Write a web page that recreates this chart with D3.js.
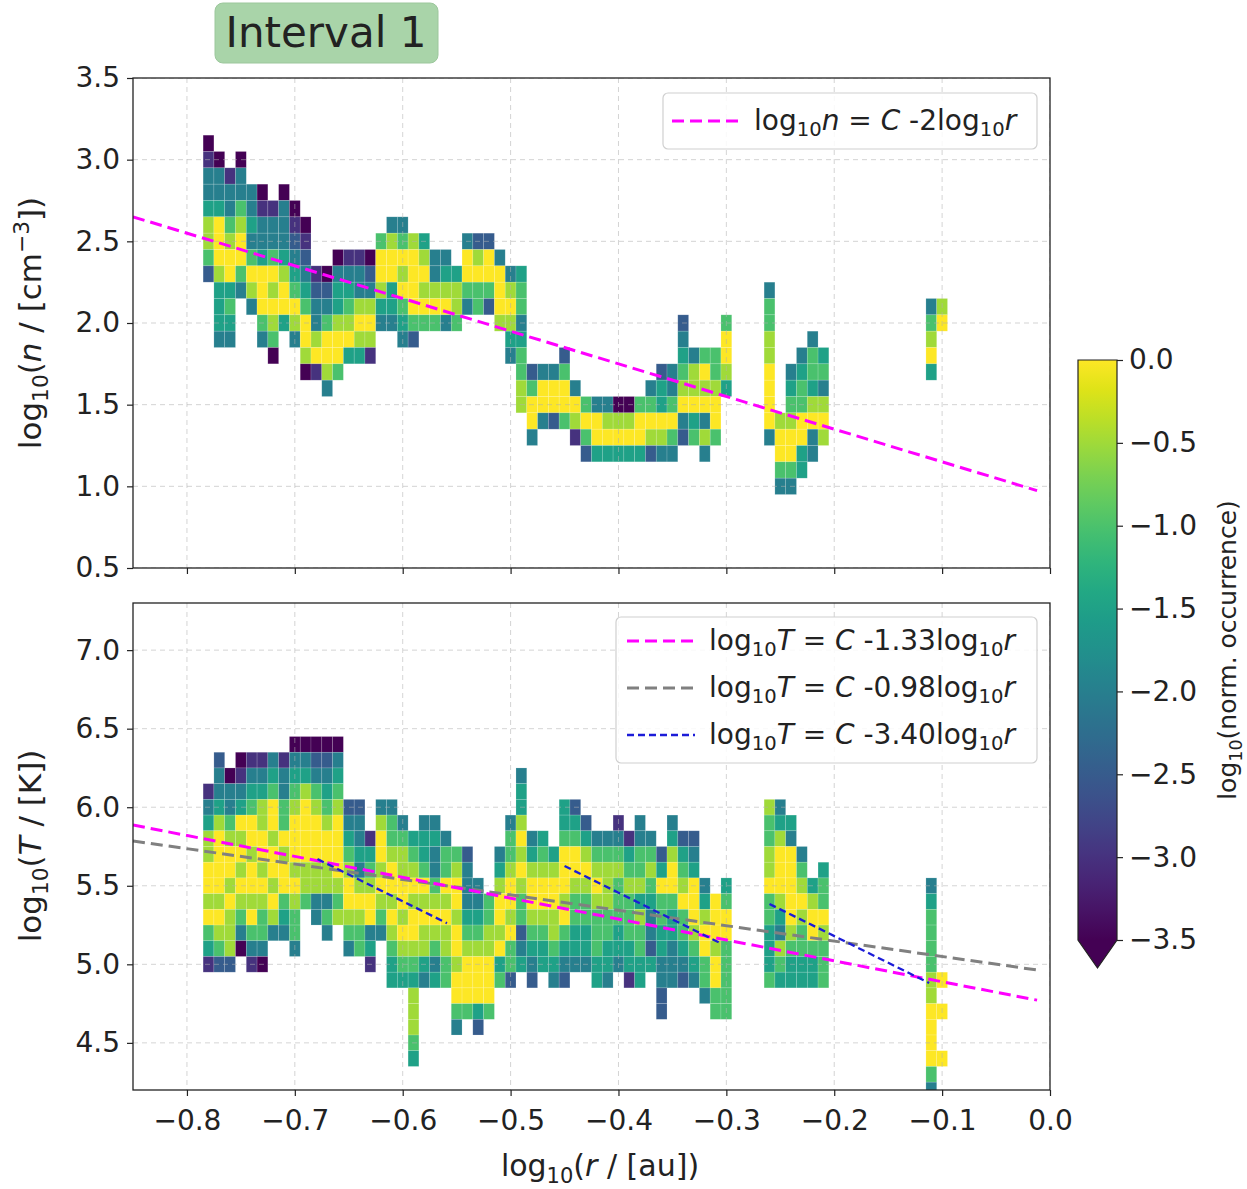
<!DOCTYPE html>
<html>
<head>
<meta charset="utf-8">
<script src="https://cdn.jsdelivr.net/npm/d3@7"></script>
<style>
body { margin: 0; background: #fff; }
text { font-family: "DejaVu Sans", sans-serif; fill: #222; }
</style>
</head>
<body>
<svg id="chart" width="1247" height="1189"></svg>
<script>
// 2D histograms: one entry per r-bin (width 0.01), top bin centre, then one digit per
// 0.1-wide bin going down. digit d -> log10(norm. occurrence) = -0.5*d, "." = empty
var densCols = [-0.78,-0.77,-0.76,-0.75,-0.74,-0.73,-0.72,-0.71,-0.70,-0.69,-0.68,-0.67,-0.66,-0.65,-0.64,-0.63,
  -0.62,-0.61,-0.60,-0.59,-0.58,-0.57,-0.56,-0.55,-0.54,-0.53,-0.52,-0.51,-0.50,-0.49,-0.48,-0.47,-0.46,-0.45,
  -0.44,-0.43,-0.42,-0.41,-0.40,-0.39,-0.38,-0.37,-0.36,-0.35,-0.34,-0.33,-0.32,-0.31,-0.30,
  -0.26,-0.25,-0.24,-0.23,-0.22,-0.21,-0.11,-0.10];
var densTop = [3.1,3.0,2.9,3.0,2.8,2.8,2.7,2.8,2.7,2.6,2.3,2.3,2.4,2.4,2.4,2.4,
  2.5,2.6,2.6,2.5,2.5,2.4,2.4,2.3,2.5,2.5,2.5,2.4,2.3,2.3,1.7,1.7,1.7,1.8,
  1.6,1.5,1.5,1.5,1.5,1.5,1.5,1.6,1.7,1.7,2.0,1.8,1.8,1.8,2.0,
  2.2,1.4,1.7,1.8,1.9,1.8,2.1,2.1];
var densLevels = ["764431125","744300013334","64421003234","744210024","44342014","7644300024","6442010127",
  "744431003","765432014","7654320017","6544106","75420014","74331002","6432103","6441013","7541016",
  "200134","4100334","42010234","1000025","310102","44102","43104","3112","40024","51022","50025","40001",
  "410134","322432211","52004","4004","4005","52002",
  "4016","2025","4003","4103","7103","7103","2003","42015","533014","442024","54321045","411032","2010414","221002","20013",
  "4221100004","10024","43210024","43220033","42231044","324101","42103","10"];

var tempCols = [-0.78,-0.77,-0.76,-0.75,-0.74,-0.73,-0.72,-0.71,-0.70,-0.69,-0.68,-0.67,-0.66,-0.65,-0.64,-0.63,
  -0.62,-0.61,-0.60,-0.59,-0.58,-0.57,-0.56,-0.55,-0.54,-0.53,-0.52,-0.51,-0.50,-0.49,-0.48,-0.47,-0.46,-0.45,
  -0.44,-0.43,-0.42,-0.41,-0.40,-0.39,-0.38,-0.37,-0.36,-0.35,-0.34,-0.33,-0.32,-0.31,-0.30,
  -0.26,-0.25,-0.24,-0.23,-0.22,-0.21,-0.11,-0.10];
var tempTop = [6.1,6.3,6.2,6.3,6.3,6.3,6.3,6.3,6.4,6.4,6.4,6.4,6.4,6.0,6.0,5.8,
  6.0,6.0,5.9,5.8,5.9,5.9,5.8,5.7,5.7,5.5,5.4,5.7,5.9,6.2,5.8,5.8,5.7,6.0,
  6.0,5.9,5.8,5.8,5.9,5.8,5.9,5.8,5.7,5.9,5.8,5.8,5.5,5.4,5.5,
  6.0,6.0,5.9,5.7,5.5,5.6,5.5,4.9];
var tempLevels = ["643110010236","54431000010125","7442100101115","7643010101247","64320010010246",
  "64311001012247","432001001014","644220100234","74321000101224","74310000112","754210001144",
  "7543210011424","743210000121","5432100124","5443410122","632100436",
  "410010124","422100101233","42110010123","321010012311123","43320101134","43442101243","4220101122",
  "210010010024","54443210002","4432100035","22110002","431001032","42210010225","4331010122543",
  "4310012345","321001233","310011234","332000102345",
  "53200122334","5310122334","4210122233","4211122334","6421222334","6321222336","44221312233",
  "421234453","53022334455","43100233444","5321022345","5430001234","43100224","00010022","320022222",
  "122110223332","431000134123","34000001233","421012233","3100233","32201222","43222211000024","0.0..0"];

var xTicks = [-0.8,-0.7,-0.6,-0.5,-0.4,-0.3,-0.2,-0.1,0.0];
var nTicks = [0.5,1.0,1.5,2.0,2.5,3.0,3.5];
var tTicks = [4.5,5.0,5.5,6.0,6.5,7.0];
var cbTicks = [0.0,-0.5,-1.0,-1.5,-2.0,-2.5,-3.0,-3.5];

// fitted power laws: log10 y = C + slope*log10 r, drawn from r0 to r1
var nFit = [-2, 0.95, -0.85, -0.012];
var tFitSteep = [-1.33, 4.756, -0.85, -0.012];
var tFitFlat = [-0.98, 4.952, -0.85, -0.012];
// three short local fits with slope -3.40: [r0, r1, y at r0]
var bluePieces = [[-0.679,-0.559,5.67],[-0.45,-0.304,5.626],[-0.26,-0.112,5.384]];

var svg = d3.select("#chart");
svg.append("rect").attr("width",1247).attr("height",1189).attr("fill","#fff");

var x = d3.scaleLinear().domain([-0.85,0.0]).range([133,1050]);
var yN = d3.scaleLinear().domain([0.5,3.5]).range([568,78]);
var yT = d3.scaleLinear().domain([4.2,7.3]).range([1090,603]);
var color = d3.scaleSequential(d3.interpolateViridis).domain([-3.5,0]);
var fmt = function(d){ return d3.format(".1f")(d).replace("-","\u2212"); };

function toCells(cols, tops, levels){
    var out = [];
    cols.forEach(function(c,i){
        levels[i].split("").forEach(function(ch,j){
            if (ch === ".") return;
            out.push({x:c, y:+(tops[i]-0.1*j).toFixed(2), v:-0.5*(+ch)});
        });
    });
    return out;
}

// rich text with italic / subscript / superscript pieces
function rich(sel, parts, size){
    var cur = 0;
    parts.forEach(function(p){
        var target = p[1]==="sub" ? size*0.22 : (p[1]==="sup" ? -size*0.4 : 0);
        var s = sel.append("tspan").text(p[0]).attr("dy", target-cur);
        cur = target;
        if (p[1]==="i") s.style("font-style","italic");
        if (p[1]==="sub" || p[1]==="sup") s.attr("font-size", size*0.7);
    });
}

function panel(y, top, bottom, cells, ticks, clipId){
    svg.append("clipPath").attr("id",clipId).append("rect")
        .attr("x",133).attr("y",top).attr("width",917).attr("height",bottom-top);
    var g = svg.append("g").attr("clip-path","url(#"+clipId+")");
    g.selectAll("rect.cell").data(cells).enter().append("rect")
        .attr("class","cell")
        .attr("x", function(d){ return x(d.x-0.005); })
        .attr("y", function(d){ return y(d.y+0.05); })
        .attr("width", function(d){ return x(d.x+0.005)-x(d.x-0.005); })
        .attr("height", function(d){ return y(d.y-0.05)-y(d.y+0.05); })
        .attr("fill", function(d){ return color(d.v); })
        .attr("stroke","rgba(255,255,255,0.25)").attr("stroke-width",0.6);
    // grid on top, faint
    g.selectAll("line.vg").data(xTicks).enter().append("line")
        .attr("x1",function(d){return x(d);}).attr("x2",function(d){return x(d);})
        .attr("y1",top).attr("y2",bottom)
        .attr("stroke","#b0b0b0").attr("stroke-opacity",0.55).attr("stroke-dasharray","5,4").attr("stroke-width",1);
    g.selectAll("line.hg").data(ticks).enter().append("line")
        .attr("y1",function(d){return y(d);}).attr("y2",function(d){return y(d);})
        .attr("x1",133).attr("x2",1050)
        .attr("stroke","#b0b0b0").attr("stroke-opacity",0.55).attr("stroke-dasharray","5,4").attr("stroke-width",1);
    return g;
}

var gN = panel(yN, 78, 568, toCells(densCols, densTop, densLevels), nTicks, "clipN");
var gT = panel(yT, 603, 1090, toCells(tempCols, tempTop, tempLevels), tTicks, "clipT");

function fitLine(g, y, f, col, w, dash){
    g.append("line")
        .attr("x1", x(f[2])).attr("y1", y(f[1]+f[0]*f[2]))
        .attr("x2", x(f[3])).attr("y2", y(f[1]+f[0]*f[3]))
        .attr("stroke", col).attr("stroke-width", w).attr("stroke-dasharray", dash);
}
fitLine(gN, yN, nFit, "#ff00ff", 3, "12,6");
fitLine(gT, yT, tFitFlat, "#808080", 3, "12,6");
fitLine(gT, yT, tFitSteep, "#ff00ff", 3, "12,6");
bluePieces.forEach(function(p){
    gT.append("line")
        .attr("x1", x(p[0])).attr("y1", yT(p[2]))
        .attr("x2", x(p[1])).attr("y2", yT(p[2]-3.40*(p[1]-p[0])))
        .attr("stroke","#1c1cd8").attr("stroke-width",2.3).attr("stroke-dasharray","7,4");
});

// axes
function styleAxis(a, size){
    a.select(".domain").remove();
    a.selectAll(".tick line").attr("stroke","#222").attr("stroke-width",1.2);
    a.selectAll(".tick text").attr("font-size",size).style("font-family","DejaVu Sans").attr("fill","#222");
}
styleAxis(svg.append("g").attr("transform","translate(133,0)")
    .call(d3.axisLeft(yN).tickValues(nTicks).tickSize(6).tickPadding(7).tickFormat(fmt)), 28);
styleAxis(svg.append("g").attr("transform","translate(133,0)")
    .call(d3.axisLeft(yT).tickValues(tTicks).tickSize(6).tickPadding(7).tickFormat(fmt)), 28);
styleAxis(svg.append("g").attr("transform","translate(0,568)")
    .call(d3.axisBottom(x).tickValues(xTicks).tickSize(6).tickFormat("")), 28);
styleAxis(svg.append("g").attr("transform","translate(0,1090)")
    .call(d3.axisBottom(x).tickValues(xTicks).tickSize(6).tickPadding(14).tickFormat(fmt)), 28);

[[78,568],[603,1090]].forEach(function(b){
    svg.append("rect").attr("x",133).attr("y",b[0]).attr("width",917).attr("height",b[1]-b[0])
        .attr("fill","none").attr("stroke","#222").attr("stroke-width",1.3);
});

// axis labels
var xl = svg.append("text").attr("x",600).attr("y",1176).attr("text-anchor","middle").attr("font-size",30);
rich(xl, [["log"],["10","sub"],["("],["r","i"],[" / [au])"]], 30);
var yl1 = svg.append("text").attr("transform","translate(41,323) rotate(-90)").attr("text-anchor","middle").attr("font-size",31);
rich(yl1, [["log"],["10","sub"],["("],["n","i"],[" / [cm"],["\u22123","sup"],["])"]], 31);
var yl2 = svg.append("text").attr("transform","translate(41,846) rotate(-90)").attr("text-anchor","middle").attr("font-size",31);
rich(yl2, [["log"],["10","sub"],["("],["T","i"],[" / [K])"]], 31);

// legends
function legendBox(x0, y0, w, h){
    svg.append("rect").attr("x",x0).attr("y",y0).attr("width",w).attr("height",h).attr("rx",5)
        .attr("fill","rgba(255,255,255,0.85)").attr("stroke","#d0d0d0").attr("stroke-width",1.2);
}
function legendRow(x0, y0, col, w, dash, parts){
    svg.append("line").attr("x1",x0).attr("x2",x0+68).attr("y1",y0).attr("y2",y0)
        .attr("stroke",col).attr("stroke-width",w).attr("stroke-dasharray",dash);
    var t = svg.append("text").attr("x",x0+82).attr("y",y0+9).attr("font-size",28);
    rich(t, parts, 28);
}
legendBox(663, 93, 374, 56);
legendRow(672, 121, "#ff00ff", 3, "12,6", [["log"],["10","sub"],["n","i"],[" = "],["C","i"],[" -2log"],["10","sub"],["r","i"]]);
legendBox(616, 617, 421, 146);
legendRow(627, 641, "#ff00ff", 3, "12,6", [["log"],["10","sub"],["T","i"],[" = "],["C","i"],[" -1.33log"],["10","sub"],["r","i"]]);
legendRow(627, 688, "#808080", 3, "12,6", [["log"],["10","sub"],["T","i"],[" = "],["C","i"],[" -0.98log"],["10","sub"],["r","i"]]);
legendRow(627, 735, "#1c1cd8", 2.3, "7,4", [["log"],["10","sub"],["T","i"],[" = "],["C","i"],[" -3.40log"],["10","sub"],["r","i"]]);

// colorbar
var cb = d3.scaleLinear().domain([-3.5,0]).range([940,360]);
var grad = svg.append("defs").append("linearGradient").attr("id","vir")
    .attr("x1",0).attr("y1",1).attr("x2",0).attr("y2",0);
d3.range(0,1.0001,0.05).forEach(function(t){
    grad.append("stop").attr("offset",t).attr("stop-color",d3.interpolateViridis(t));
});
svg.append("rect").attr("x",1078).attr("y",360).attr("width",39).attr("height",580).attr("fill","url(#vir)");
svg.append("path").attr("d","M1078,940L1117,940L1097.5,968Z").attr("fill",color(-3.5));
svg.append("path").attr("d","M1078,360L1117,360L1117,940L1097.5,968L1078,940Z")
    .attr("fill","none").attr("stroke","#222").attr("stroke-width",1.2);
styleAxis(svg.append("g").attr("transform","translate(1117,0)")
    .call(d3.axisRight(cb).tickValues(cbTicks).tickSize(6).tickPadding(6).tickFormat(fmt)), 28);
var cl = svg.append("text").attr("transform","translate(1236,650) rotate(-90)").attr("text-anchor","middle").attr("font-size",25);
rich(cl, [["log"],["10","sub"],["(norm. occurrence)"]], 25);

// title badge
svg.append("rect").attr("x",215).attr("y",3).attr("width",223).attr("height",60).attr("rx",8)
    .attr("fill","#a9d4a9").attr("stroke","#9cc79c");
svg.append("text").attr("x",326).attr("y",47).attr("text-anchor","middle").attr("font-size",42).text("Interval 1");
</script>
</body>
</html>
